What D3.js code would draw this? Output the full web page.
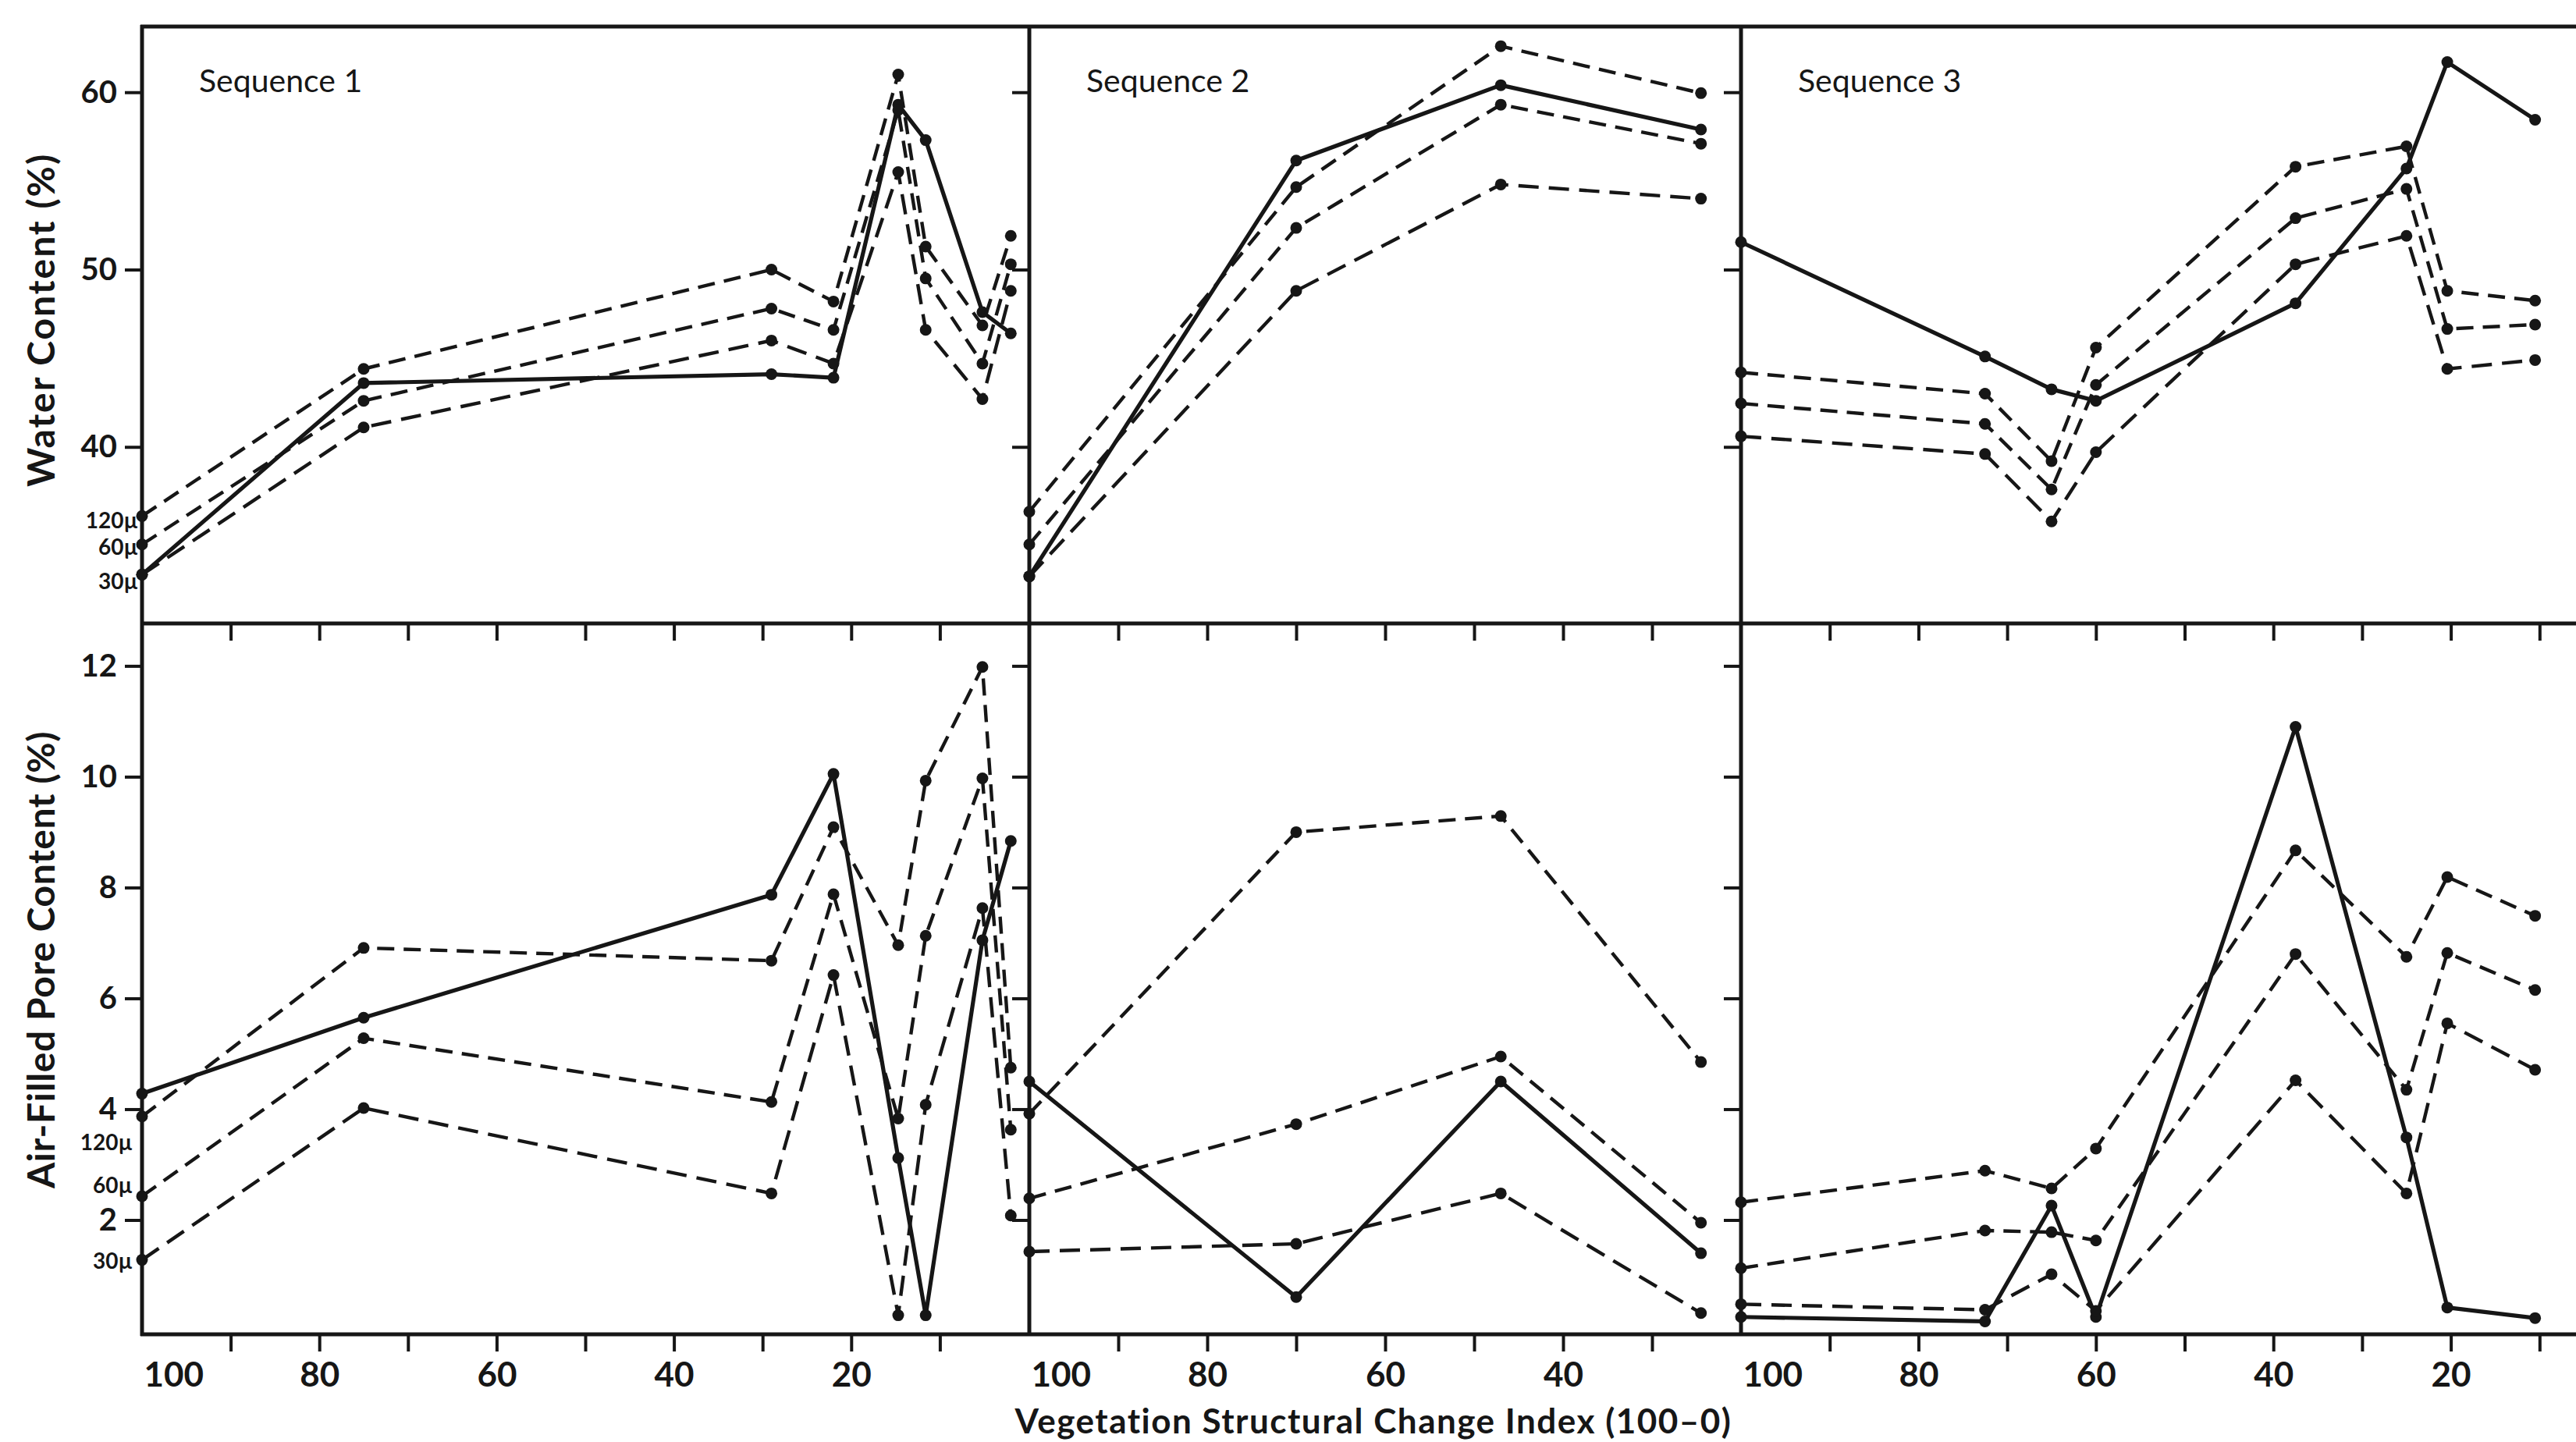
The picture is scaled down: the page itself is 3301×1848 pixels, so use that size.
<!DOCTYPE html>
<html><head><meta charset="utf-8">
<script src="https://cdn.jsdelivr.net/npm/d3@7"></script>
<style>body{margin:0;background:#fff}svg{display:block}</style>
</head><body>
<svg id="chart" width="3301" height="1848"></svg>
<script>
// ---------- DATA ----------
const sequences = ["Sequence 1", "Sequence 2", "Sequence 3"];
const seq1X = [100, 75, 29, 22, 14.7, 11.6, 5.2, 2];
const seq2X = [100, 70, 47, 24.5];
const seq3X = [100, 72.5, 65, 60, 37.5, 25, 20.4, 10.5];
const xDomains = [[100, 0], [100, 20], [100, 0]];

// Water content (%)
const water1Solid = [32.8, 43.6, 44.1, 43.9, 59.3, 57.3, 47.6, 46.4];
const water1_120 = [36.1, 44.4, 50.0, 48.2, 61.0, 51.3, 46.85, 51.9];
const water1_60  = [34.5, 42.6, 47.8, 46.6, 59.0, 49.5, 44.7, 50.3];
const water1_30  = [32.8, 41.1, 46.0, 44.7, 55.5, 46.6, 42.7, 48.8];

const water2Solid = [32.7, 56.15, 60.4, 57.9];
const water2_120 = [36.35, 54.65, 62.6, 59.95];
const water2_60  = [34.5, 52.35, 59.3, 57.1];
const water2_30  = [32.7, 48.8, 54.8, 54.0];

const water3Solid = [51.55, 45.1, 43.25, 42.6, 48.1, 55.7, 61.7, 58.45];
const water3_120 = [44.2, 43.0, 39.2, 45.6, 55.8, 56.95, 48.8, 48.25];
const water3_60  = [42.45, 41.3, 37.6, 43.5, 52.9, 54.55, 46.65, 46.9];
const water3_30  = [40.6, 39.6, 35.8, 39.7, 50.3, 51.9, 44.4, 44.9];

// Air-filled pore content (%)
const air1Solid = [4.28, 5.65, 7.87, 10.05, 3.12, 0.28, 7.05, 8.84];
const air1_A = [3.87, 6.91, 6.68, 9.09, 6.96, 9.93, 11.98, 4.75];
const air1_B = [2.43, 5.28, 4.13, 7.88, 3.83, 7.13, 9.97, 3.63];
const air1_C = [1.28, 4.02, 2.48, 6.42, 0.28, 4.08, 7.63, 2.08];

const air2Solid = [4.50, 0.61, 4.50, 1.40];
const air2_A = [3.92, 9.0, 9.29, 4.85];
const air2_B = [2.39, 3.73, 4.95, 1.95];
const air2_C = [1.43, 1.57, 2.48, 0.32];

const air3Solid = [0.25, 0.17, 2.26, 0.25, 10.9, 3.49, 0.42, 0.23];
const air3_A = [2.32, 2.89, 2.57, 3.29, 8.67, 6.75, 8.19, 7.49];
const air3_B = [1.13, 1.81, 1.78, 1.63, 6.80, 4.35, 6.82, 6.15];
const air3_C = [0.48, 0.38, 1.02, 0.36, 4.52, 2.48, 5.55, 4.71];

const waterTicks = [40, 50, 60];
const airTicks = [2, 4, 6, 8, 10, 12];
const xLabelTicks = [100, 80, 60, 40, 20];
const sizeLabels = ["120µ", "60µ", "30µ"];
const waterLabelAt = [35.85, 34.35, 32.4];
const airLabelAt = [3.40, 2.63, 1.26];

// ---------- LAYOUT ----------
const W = 3301, H = 1848;
const ink = "#161616";
const font = "Lato, 'Open Sans', sans-serif";
const yTopFrame = 34, yMid = 799, yBotFrame = 1710;
const panelRanges = [[182, 1318], [1319, 2231], [2231, 3368]];

const yWater = d3.scaleLinear().domain([30, 63.75]).range([800, 33]);
const yAir = d3.scaleLinear().domain([0, 12.78]).range([1705.5, 798]);

const svg = d3.select("#chart");
svg.append("rect").attr("width", W).attr("height", H).attr("fill", "#fff");

const panelsX = xDomains.map((d, i) => d3.scaleLinear().domain(d).range(panelRanges[i]));
const xs = [seq1X, seq2X, seq3X];
const waterData = [
  [water1Solid, water1_120, water1_60, water1_30],
  [water2Solid, water2_120, water2_60, water2_30],
  [water3Solid, water3_120, water3_60, water3_30]
];
const airData = [
  [air1Solid, air1_A, air1_B, air1_C],
  [air2Solid, air2_A, air2_B, air2_C],
  [air3Solid, air3_A, air3_B, air3_C]
];
const dashes = [null, "22,12", "22,12", "26,13"];

const plot = svg.append("g");

// Series lines & markers
function drawSeries(g, x, xv, y, series) {
  series.forEach((vals, k) => {
    const line = d3.line().x((d, i) => x(xv[i])).y(d => y(d));
    g.append("path").datum(vals)
      .attr("d", line).attr("fill", "none").attr("stroke", ink)
      .attr("stroke-width", k === 0 ? 5.2 : 4.4)
      .attr("stroke-linejoin", "round")
      .attr("stroke-dasharray", dashes[k]);
    g.selectAll(null).data(vals).enter().append("circle")
      .attr("cx", (d, i) => x(xv[i])).attr("cy", d => y(d))
      .attr("r", 7.5).attr("fill", ink);
  });
}

panelsX.forEach((x, p) => {
  const g = plot.append("g");
  drawSeries(g, x, xs[p], yWater, waterData[p]);
  drawSeries(g, x, xs[p], yAir, airData[p]);
});

// Frame
const frame = svg.append("g").attr("stroke", ink).attr("stroke-width", 5).attr("fill", "none");
[yTopFrame, yMid, yBotFrame].forEach(yy =>
  frame.append("line").attr("x1", 180).attr("x2", W).attr("y1", yy).attr("y2", yy));
panelRanges.forEach(r =>
  frame.append("line").attr("x1", r[0]).attr("x2", r[0]).attr("y1", yTopFrame - 2).attr("y2", yBotFrame + 2));

// Axes
function styleAxis(g) {
  g.select(".domain").remove();
  g.selectAll(".tick line").attr("stroke", ink).attr("stroke-width", 4);
  g.selectAll("text").attr("fill", ink).attr("font-family", font);
}

panelsX.forEach((x, p) => {
  const left = panelRanges[p][0];
  const ga = svg.append("g").attr("transform", `translate(${left},0)`)
    .call(d3.axisLeft(yWater).tickValues(waterTicks).tickSize(22).tickPadding(10)
      .tickFormat(p === 0 ? d3.format("d") : () => ""));
  styleAxis(ga);
  ga.selectAll("text").attr("font-size", 40).attr("font-weight", 700);
  const gb = svg.append("g").attr("transform", `translate(${left},0)`)
    .call(d3.axisLeft(yAir).tickValues(airTicks).tickSize(22).tickPadding(10)
      .tickFormat(p === 0 ? d3.format("d") : () => ""));
  styleAxis(gb);
  gb.selectAll("text").attr("font-size", 40).attr("font-weight", 700);

  const d = xDomains[p];
  const tv = d3.range(90, d[1], -10);
  const gx = svg.append("g").attr("transform", `translate(0,${yBotFrame})`)
    .call(d3.axisBottom(x).tickValues([100].concat(tv)).tickSize(22).tickPadding(14)
      .tickFormat(v => xLabelTicks.includes(v) ? d3.format("d")(v) : ""));
  styleAxis(gx);
  gx.selectAll(".tick").filter(v => v === 100).select("line").remove();
  gx.selectAll(".tick").filter(v => v === 100).select("text")
    .attr("text-anchor", "start").attr("x", 2);
  gx.selectAll("text").attr("font-size", 44).attr("font-weight", 700);

  const gm = svg.append("g").attr("transform", `translate(0,${yMid})`)
    .call(d3.axisBottom(x).tickValues(tv).tickSize(22).tickFormat(() => ""));
  styleAxis(gm);

  svg.append("text").attr("x", left + 73).attr("y", 118)
    .attr("font-family", font).attr("font-size", 41).attr("fill", ink)
    .text(sequences[p]);
});

// Pore-size labels at left
sizeLabels.forEach((t, i) => {
  svg.append("text").attr("x", 177).attr("y", yWater(waterLabelAt[i])).attr("dy", "0.35em")
    .attr("text-anchor", "end").attr("font-family", font).attr("font-size", 28)
    .attr("font-weight", 700).attr("fill", ink).text(t);
  svg.append("text").attr("x", 170).attr("y", yAir(airLabelAt[i])).attr("dy", "0.35em")
    .attr("text-anchor", "end").attr("font-family", font).attr("font-size", 28)
    .attr("font-weight", 700).attr("fill", ink).text(t);
});

// Axis titles
svg.append("text").attr("transform", "translate(70,410) rotate(-90)")
  .attr("text-anchor", "middle").attr("font-family", font).attr("font-size", 48)
  .attr("letter-spacing", 2).attr("font-weight", 700).attr("fill", ink).text("Water Content (%)");
svg.append("text").attr("transform", "translate(70,1230) rotate(-90)")
  .attr("text-anchor", "middle").attr("font-family", font).attr("font-size", 48)
  .attr("letter-spacing", 0.6).attr("font-weight", 700).attr("fill", ink).text("Air-Filled Pore Content (%)");
svg.append("text").attr("x", 1760).attr("y", 1837)
  .attr("text-anchor", "middle").attr("font-family", font).attr("font-size", 44)
  .attr("letter-spacing", 1.5).attr("font-weight", 700).attr("fill", ink)
  .text("Vegetation Structural Change Index (100–0)");
</script>
</body></html>
